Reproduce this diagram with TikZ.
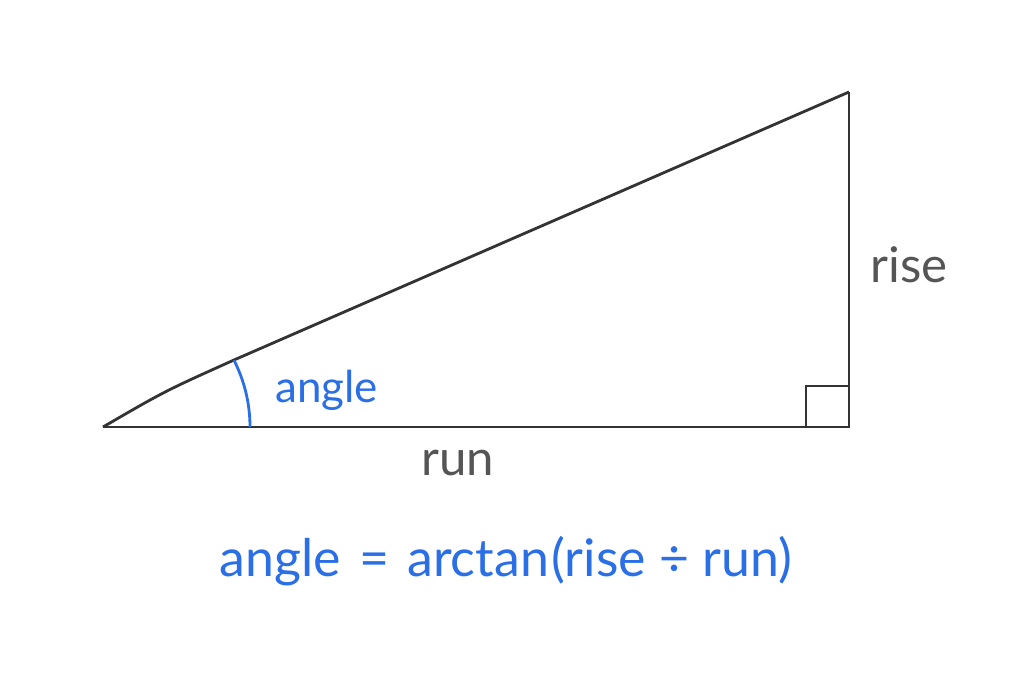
\documentclass[tikz,border=0pt]{standalone}
\usepackage{fontspec}
\setmainfont{Lato}
\usetikzlibrary{positioning}
\definecolor{linegray}{HTML}{333333}
\definecolor{textgray}{HTML}{555555}
\definecolor{angleblue}{HTML}{2A6FE6}
\tikzset{
  side/.style={linegray, line width=1.6pt},
  sidelabel/.style={textgray, font=\fontsize{28}{32}\selectfont, anchor=base},
  bluelabel/.style={angleblue, font=\fontsize{25}{29}\selectfont, anchor=base west}
}

\begin{document}
\begin{tikzpicture}[x=0.02cm,y=-0.02cm]
\useasboundingbox (0,0) rectangle (1024,688);
%corners
\coordinate (A) at (103,427);
\coordinate (B) at (849,427);
\coordinate (C) at (849,92);
\coordinate (H) at (234,360);
%triangle
\draw[side] (A) -- (B) -- (C);
\draw[side] (A) .. controls (165,391) .. (H) -- (C);
%right angle
\draw[side] (806,427) -- (806,386) -- (849,386);
%angle arc
\draw[angleblue, line width=1.6pt] (250,427) arc[start angle=0, end angle=-27, radius=147];
%labels
\node[sidelabel] (rise) at (909,283) {rise};
\node[sidelabel] (run) at (458,476) {run};
\node[bluelabel] (angle) at (269,403) {angle};
\node[angleblue, font=\fontsize{29.5}{34}\selectfont, anchor=base] (formula) at (506,577)
  {angle\hspace{0.35em}=\hspace{0.35em}arctan\hspace{0.05em}(rise ÷ run)};
\end{tikzpicture}
\end{document}
